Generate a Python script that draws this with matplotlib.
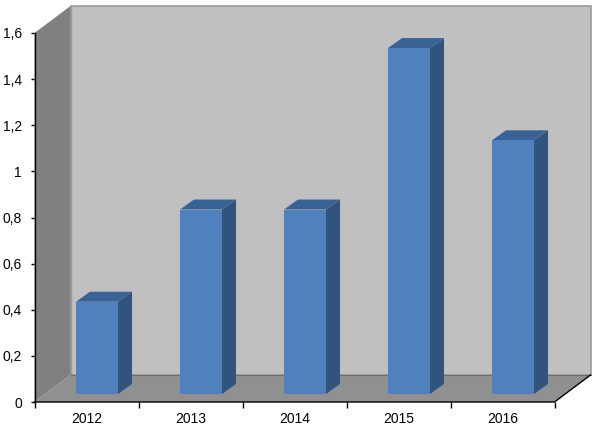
import matplotlib
matplotlib.use("Agg")
import matplotlib.pyplot as plt
from matplotlib.patches import Polygon

plt.rcParams["font.family"] = ["Liberation Sans", "DejaVu Sans"]

years = ["2012", "2013", "2014", "2015", "2016"]
values = [0.4, 0.8, 0.8, 1.5, 1.1]
ytick_values = [0, 0.2, 0.4, 0.6, 0.8, 1, 1.2, 1.4, 1.6]
ytick_labels = ["0", "0,2", "0,4", "0,6", "0,8", "1", "1,2", "1,4", "1,6"]

W, H = 599, 432
fig = plt.figure(figsize=(W / 100, H / 100), dpi=100, facecolor="white")
# front plane of the 3d box, in pixels: x 34.5..554.5, y 33..402
ax = fig.add_axes([34.5 / W, (H - 402) / H, 520 / W, 369 / H])
ax.set_xlim(0, 5)
ax.set_ylim(0, 1.6)
ax.patch.set_visible(False)
for s in ax.spines.values():
    s.set_visible(False)

# pixels -> data units for the fake depth
px_x = 5 / 520
px_y = 1.6 / 369
depth_x, depth_y = 36 * px_x, 27 * px_y
bar_dx, bar_dy = 14 * px_x, 10 * px_y
bar_left, bar_w = 41.5 * px_x, 42 * px_x
bar_base = 8 * px_y


def poly(pts, color, edge="none", lw=0, z=1):
    ax.add_patch(Polygon(pts, closed=True, facecolor=color, edgecolor=edge,
                         linewidth=lw, clip_on=False, zorder=z))


# walls and floor
poly([(depth_x, depth_y), (5 + depth_x, depth_y), (5 + depth_x, 1.6 + depth_y), (depth_x, 1.6 + depth_y)],
     "#c0c0c0", edge="#9a9a9a", lw=1.2)
poly([(0, 0), (depth_x, depth_y), (depth_x, 1.6 + depth_y), (0, 1.6)], "#808080", z=2)
poly([(0, 0), (5, 0), (5 + depth_x, depth_y), (depth_x, depth_y)], "#909090", z=2)
ax.plot([depth_x, depth_x], [depth_y, 1.6 + depth_y], color="#9a9a9a", lw=1, clip_on=False, zorder=2)
ax.plot([depth_x, 5 + depth_x], [depth_y, depth_y], color="#6e6e6e", lw=0.8, clip_on=False, zorder=2)

# bars
for i, v in enumerate(values):
    x0 = i + bar_left
    x1 = x0 + bar_w
    y0 = bar_base
    y1 = bar_base + v
    poly([(x1, y0), (x1 + bar_dx, y0 + bar_dy), (x1 + bar_dx, y1 + bar_dy), (x1, y1)], "#31547e", z=3)
    poly([(x0, y1), (x1, y1), (x1 + bar_dx, y1 + bar_dy), (x0 + bar_dx, y1 + bar_dy)], "#3a6395", z=3)
    ax.bar(x0, v, width=bar_w, bottom=y0, align="edge", color="#4f81bd", zorder=4, clip_on=False)

# axis lines and ticks
ax.plot([0, 0], [0, 1.6], color="black", lw=1, clip_on=False, zorder=5)
ax.plot([0, 5, 5 + depth_x], [0, 0, depth_y], color="black", lw=1, clip_on=False, zorder=5)
ax.set_yticks(ytick_values)
ax.set_yticklabels(ytick_labels, fontsize=10, color="black")
ax.set_xticks(range(6))
ax.set_xticklabels([])
ax.set_xticks([i + 0.5 for i in range(5)], minor=True)
ax.set_xticklabels(years, minor=True, fontsize=10)
ax.tick_params(axis="y", length=3, width=1, pad=6)
ax.tick_params(axis="x", which="major", length=4, width=1)
ax.tick_params(axis="x", which="minor", length=0, pad=7)

fig.savefig("out.png", dpi=100)
